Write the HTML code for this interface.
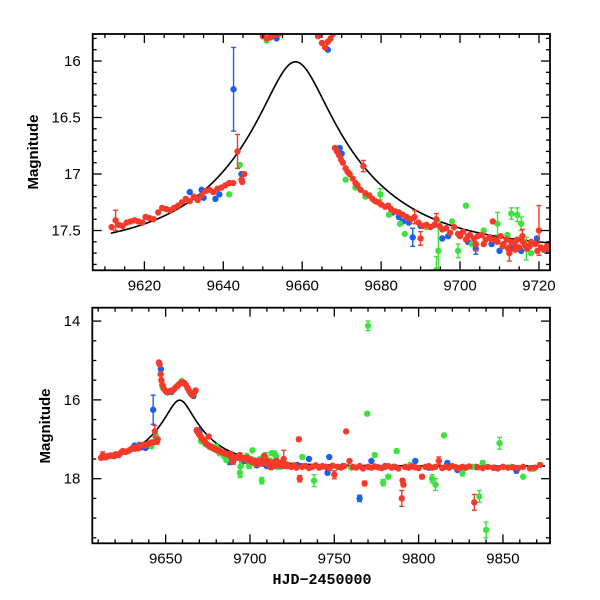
<!DOCTYPE html>
<html><head><meta charset="utf-8"><style>
html,body{margin:0;padding:0;background:#fff}
svg{display:block}
text{font-family:"Liberation Sans",sans-serif;fill:#000}
</style></head><body>
<svg id="chart" width="600" height="600" xmlns="http://www.w3.org/2000/svg">
<defs>
<clipPath id="clipTop"><rect x="93" y="34" width="457" height="236"/></clipPath>
<clipPath id="clipBot"><rect x="92.5" y="308" width="457.5" height="235.5"/></clipPath>
</defs>
<rect x="0" y="0" width="600" height="600" fill="#fff"/>
<g id="top"></g>
<g id="bot"></g>
<text x="38" y="152" transform="rotate(-90 38 152)" text-anchor="middle" font-size="15" font-weight="bold">Magnitude</text>
<text x="50" y="426" transform="rotate(-90 50 426)" text-anchor="middle" font-size="15" font-weight="bold">Magnitude</text>
<text x="322" y="584" text-anchor="middle" font-size="15" font-weight="bold" style="font-family:'Liberation Mono',monospace">HJD−2450000</text>
</svg>
<script>
// model parameters (Paczynski point-lens fit)
const modelT0 = 9658.3, modelU0 = 0.218, modelTE = 33.5, modelBase = 17.68;
// data: [HJD-2450000, magnitude, error]
const redData = [
[9611.7,17.47,0.02],[9612.7,17.41,0.09],[9613.5,17.45,0.02],[9614.5,17.46,0.02],[9615.5,17.43,0.02],[9616.5,17.42,0.02],[9617.5,17.41,0.02],[9618.5,17.42,0.02],[9619.5,17.43,0.02],[9620.3,17.38,0.02],[9621.3,17.39,0.02],[9622.3,17.40,0.02],[9623.5,17.34,0.02],[9624.5,17.30,0.02],[9625.5,17.31,0.02],[9626.5,17.32,0.02],[9627.5,17.30,0.02],[9628.5,17.28,0.02],[9629.5,17.25,0.02],[9630.5,17.22,0.02],[9631.5,17.24,0.02],[9632.5,17.20,0.02],[9633.5,17.23,0.02],[9634.5,17.19,0.02],[9635.5,17.15,0.02],[9636.5,17.14,0.02],[9637.5,17.16,0.02],[9638.5,17.13,0.02],[9639.5,17.12,0.02],[9640.5,17.10,0.02],[9641.5,17.08,0.02],[9642.5,17.08,0.02],[9643.6,16.80,0.15],[9644.6,17.05,0.02],[9645.3,17.00,0.02],[9644.8,17.07,0.02],
[9646.0,15.05,0.02],[9646.4,15.10,0.02],[9647.0,15.35,0.02],[9647.5,15.50,0.02],[9648.0,15.62,0.02],[9649.0,15.72,0.02],[9650.0,15.78,0.02],[9651.0,15.80,0.02],[9652.0,15.79,0.02],[9653.0,15.77,0.02],[9654.0,15.76,0.02],[9655.0,15.73,0.02],[9656.0,15.68,0.02],[9657.0,15.64,0.02],[9658.0,15.60,0.02],[9659.0,15.57,0.02],[9660.0,15.55,0.02],[9661.0,15.57,0.02],[9662.0,15.62,0.02],[9663.0,15.70,0.02],[9664.0,15.78,0.02],[9665.0,15.84,0.02],[9665.8,15.88,0.02],[9666.5,15.83,0.02],[9667.2,15.80,0.02],[9667.8,15.76,0.02],
[9668.3,16.77,0.02],[9668.8,16.80,0.02],[9669.3,16.83,0.02],[9669.8,16.87,0.02],[9670.3,16.90,0.02],[9671.0,16.95,0.02],[9671.5,16.98,0.02],[9672.0,17.00,0.02],[9672.8,17.04,0.02],[9673.5,17.08,0.02],[9674.0,17.10,0.02],[9674.8,17.14,0.02],[9675.5,16.93,0.05],[9676.0,17.17,0.02],[9677.0,17.19,0.02],[9677.8,17.22,0.02],[9678.5,17.24,0.02],[9679.3,17.25,0.02],[9680.0,17.27,0.02],[9681.0,17.29,0.02],[9681.8,17.28,0.02],[9682.5,17.31,0.02],[9683.5,17.33,0.02],[9684.5,17.34,0.02],[9685.5,17.36,0.02],[9686.5,17.38,0.02],[9687.5,17.40,0.03],[9688.5,17.38,0.06],[9689.5,17.43,0.02],[9690.0,17.57,0.06],[9690.5,17.46,0.02],[9691.5,17.45,0.02],[9692.5,17.47,0.02],[9693.5,17.45,0.02],[9694.0,17.40,0.05],[9694.8,17.46,0.02],[9695.5,17.49,0.02],[9696.5,17.48,0.03],[9697.5,17.52,0.02],[9698.5,17.47,0.03],[9699.5,17.53,0.02],[9700.0,17.55,0.02],[9700.8,17.51,0.02],[9701.5,17.58,0.03],[9702.0,17.55,0.02],[9702.5,17.54,0.02],[9703.5,17.57,0.02],[9704.0,17.62,0.06],[9704.5,17.55,0.02],[9705.5,17.54,0.02],[9706.5,17.58,0.02],[9707.5,17.56,0.02],[9708.3,17.42,0.03],[9709.0,17.58,0.02],[9709.5,17.60,0.02],[9710.3,17.55,0.03],[9711.0,17.62,0.02],[9711.8,17.58,0.03],[9712.5,17.70,0.07],[9713.0,17.60,0.02],[9713.8,17.62,0.02],[9714.5,17.58,0.03],[9715.0,17.65,0.02],[9715.8,17.55,0.06],[9716.5,17.63,0.02],[9717.0,17.66,0.02],[9718.0,17.60,0.02],[9719.0,17.62,0.02],[9720.0,17.50,0.22],[9720.5,17.65,0.02],[9721.2,17.67,0.02],
[9706.0,17.62,0.02],[9708.0,17.58,0.02],[9710.8,17.64,0.02],[9712.2,17.66,0.02],[9714.0,17.67,0.02],[9716.0,17.60,0.02],[9717.6,17.64,0.02],[9719.6,17.68,0.02],[9722.0,17.64,0.02],
[9723,17.68,0.02],[9724.5,17.70,0.02],[9726,17.66,0.02],[9727.5,17.72,0.02],[9729,17.00,0.05],[9729.5,18.00,0.08],[9731,17.70,0.02],[9733,17.68,0.02],[9735,17.73,0.02],[9737,17.70,0.02],[9739,17.66,0.02],[9741,17.72,0.02],[9743,17.68,0.02],[9745,17.70,0.02],[9747,17.74,0.02],[9749,17.67,0.02],[9750,17.90,0.10],[9752,17.70,0.02],[9754,17.72,0.02],[9756,17.68,0.02],[9757,16.80,0.03],[9759,17.55,0.03],[9761,17.70,0.02],[9763,17.72,0.02],[9765,17.68,0.02],[9767,17.74,0.02],[9768,18.12,0.06],[9770,17.70,0.02],[9772,17.72,0.02],[9774,17.69,0.02],[9776,17.71,0.02],[9778,17.73,0.02],[9780,17.70,0.02],[9782,17.68,0.02],[9784,17.72,0.02],[9786,17.70,0.02],[9788,17.74,0.02],[9790,18.50,0.20],[9790.5,18.05,0.05],[9791,18.15,0.05],[9792,17.70,0.02],[9794,17.72,0.02],[9796,17.69,0.02],[9798,17.71,0.02],[9800,17.73,0.02],[9802,17.95,0.05],[9804,17.70,0.02],[9806,17.68,0.02],[9808,17.72,0.02],[9810,17.70,0.02],[9812,17.55,0.10],[9814,17.73,0.02],[9816,17.70,0.02],[9818,17.72,0.02],[9820,17.68,0.02],[9822,17.71,0.02],[9824,17.73,0.02],[9826,17.70,0.02],[9828,17.72,0.02],[9830,17.69,0.02],[9833,18.60,0.20],[9835,17.71,0.02],[9838,17.73,0.02],[9841,17.70,0.02],[9844,17.72,0.02],[9847,17.74,0.02],[9850,17.70,0.02],[9853,17.72,0.02],[9856,17.71,0.02],[9859,17.73,0.02],[9862,17.70,0.02],[9866,17.74,0.02],[9869,17.72,0.02],[9872,17.65,0.02]
];
const blueData = [
[9631.5,17.16,0.02],[9633.0,17.21,0.03],[9634.5,17.14,0.02],[9635.0,17.21,0.02],[9638.0,17.22,0.02],[9639.0,17.18,0.02],[9642.6,16.25,0.37],[9644.6,17.00,0.02],
[9647.2,15.22,0.02],[9648.2,15.65,0.02],[9653.5,15.80,0.02],[9666.5,15.90,0.02],
[9669.5,16.77,0.02],[9670.0,16.82,0.02],[9683.0,17.34,0.02],[9684.5,17.38,0.02],[9685.5,17.42,0.02],[9687.0,17.43,0.02],[9688.0,17.56,0.08],[9690.0,17.46,0.02],[9695.5,17.57,0.02],[9697.0,17.55,0.02],[9702.0,17.60,0.02],[9704.0,17.66,0.05],[9708.0,17.62,0.02],[9710.0,17.68,0.02],[9713.0,17.66,0.02],[9715.5,17.68,0.02],[9719.5,17.57,0.02],[9721.8,17.68,0.02],
[9728,17.65,0.02],[9735,17.50,0.03],[9742,17.70,0.02],[9746,17.85,0.05],[9747,17.45,0.03],[9755,17.68,0.02],[9765,18.50,0.08],[9772,17.55,0.02],[9780,17.68,0.03],[9785,17.70,0.02],[9798,17.55,0.02],[9806,17.72,0.02],[9817,17.60,0.03],[9823,17.78,0.03],[9834,17.70,0.02],[9845,17.72,0.02],[9858,17.80,0.03]
];
const greenData = [
[9641.5,17.18,0.02],[9644.2,16.92,0.03],[9648.5,15.70,0.02],[9651.0,15.82,0.02],[9659.5,15.52,0.02],
[9671.0,17.05,0.02],[9673.5,17.12,0.02],[9676.0,17.20,0.02],[9679.8,17.18,0.05],[9682.0,17.36,0.02],[9684.8,17.44,0.03],[9686.0,17.53,0.03],[9691.5,17.47,0.03],[9694.5,17.68,0.26],[9698.0,17.42,0.03],[9699.5,17.68,0.06],[9701.5,17.28,0.02],[9703.0,17.62,0.03],[9706.0,17.50,0.03],[9709.5,17.44,0.10],[9712.0,17.54,0.03],[9714.5,17.36,0.06],[9715.5,17.44,0.06],[9716.8,17.66,0.10],[9718.0,17.70,0.03],
[9694,17.85,0.12],[9707,18.05,0.08],[9713,17.35,0.05],[9731,17.45,0.05],[9738,18.05,0.15],[9745,17.70,0.03],[9760,17.72,0.03],[9770,14.12,0.12],[9769.5,16.35,0.02],[9774,17.40,0.05],[9779,18.10,0.08],[9782,17.95,0.05],[9787,17.30,0.05],[9795,17.65,0.03],[9808,18.00,0.10],[9810,18.15,0.15],[9815,16.90,0.02],[9826,17.85,0.08],[9832,17.70,0.03],[9836,18.45,0.15],[9838,17.60,0.05],[9840,19.30,0.20],[9848,17.10,0.15],[9855,17.70,0.03],[9862,17.95,0.03],[9868,17.75,0.03]
];
const topXTicks = [9620,9640,9660,9680,9700,9720];
const topYTicks = [16,16.5,17,17.5];
const botXTicks = [9650,9700,9750,9800,9850];
const botYTicks = [14,16,18];

const NS = "http://www.w3.org/2000/svg";
function mk(tag, attrs, parent){const e=document.createElementNS(NS,tag);for(const k in attrs)e.setAttribute(k,attrs[k]);parent.appendChild(e);return e;}

const panels = [
 {g:document.getElementById('top'), clip:'clipTop', x0:92.7, y0:34, x1:550, y1:270.3, t0:9606.9, t1:9722.8, m0:15.761, m1:17.852,
  xt:topXTicks, yt:topYTicks, xminor:5, yminor:0.1, name:'top'},
 {g:document.getElementById('bot'), clip:'clipBot', x0:92.3, y0:307.7, x1:550, y1:543.3, t0:9606.5, t1:9877.9, m0:13.66, m1:19.64,
  xt:botXTicks, yt:botYTicks, xminor:10, yminor:0.5, name:'bottom'}
];

function modelMag(t){
  const u=Math.sqrt(modelU0*modelU0+Math.pow((t-modelT0)/modelTE,2));
  const A=(u*u+2)/(u*Math.sqrt(u*u+4));
  return modelBase-2.5*Math.log10(A);
}

panels.forEach(p=>{
  const X=t=>p.x0+(t-p.t0)/(p.t1-p.t0)*(p.x1-p.x0);
  const Y=m=>p.y0+(m-p.m0)/(p.m1-p.m0)*(p.y1-p.y0);
  const plot=mk('g',{'clip-path':`url(#${p.clip})`},p.g);
  
  
  let d='';
  for(let t=9611.5;t<=9875;t+=0.25){d+=(d?'L':'M')+X(t).toFixed(2)+','+Y(modelMag(t)).toFixed(2);}
  const path=mk('path',{d:d,fill:'none',stroke:'#000','stroke-width':1.6},plot);
  
  
  const series=[['blue',blueData,'#1a5ff0'],['green',greenData,'#3de23d'],['red',redData,'#f63a2a']];
  series.forEach(([nm,data,col])=>{
    const sg=mk('g',{},plot);
    
    
    data.forEach(([t,m,e])=>{
      const x=X(t),y=Y(m);
      if(e>0.03){
        const ya=Y(m-e),yb=Y(m+e);
        mk('line',{x1:x,y1:ya,x2:x,y2:yb,stroke:col,'stroke-width':1.4},sg);
        mk('line',{x1:x-2.5,y1:ya,x2:x+2.5,y2:ya,stroke:col,'stroke-width':1.4},sg);
        mk('line',{x1:x-2.5,y1:yb,x2:x+2.5,y2:yb,stroke:col,'stroke-width':1.4},sg);
      }
      const c=mk('circle',{cx:x,cy:y,r:3.2,fill:col},sg);
      
      
    });
  });
  const fr=mk('rect',{x:p.x0,y:p.y0,width:p.x1-p.x0,height:p.y1-p.y0,fill:'none',stroke:'#000','stroke-width':1.8},p.g);
  
  
  const tg=mk('g',{stroke:'#000','stroke-width':1.3},p.g);
  
  
  const tStart=Math.ceil(p.t0/p.xminor)*p.xminor;
  for(let t=tStart;t<=p.t1;t+=p.xminor){
    const major=p.xt.some(v=>Math.abs(v-t)<1e-6);const L=major?9:4;const x=X(t);
    mk('line',{x1:x,y1:p.y1,x2:x,y2:p.y1-L},tg);
    mk('line',{x1:x,y1:p.y0,x2:x,y2:p.y0+L},tg);
  }
  const mStart=Math.ceil(p.m0/p.yminor-1e-6)*p.yminor;
  for(let m=mStart;m<=p.m1+1e-6;m+=p.yminor){
    const major=p.yt.some(v=>Math.abs(v-m)<1e-6);const L=major?9:4;const y=Y(m);
    mk('line',{x1:p.x0,y1:y,x2:p.x0+L,y2:y},tg);
    mk('line',{x1:p.x1,y1:y,x2:p.x1-L,y2:y},tg);
  }
  p.xt.forEach(v=>{
    const tx=mk('text',{x:X(v),y:p.y1+20,'text-anchor':'middle','font-size':15},p.g);
    tx.textContent=v;
    
    
  });
  p.yt.forEach(v=>{
    const tx=mk('text',{x:p.x0-12,y:Y(v)+5,'text-anchor':'end','font-size':15},p.g);
    tx.textContent=String(v);
    
    
  });
});
</script>
</body></html>
